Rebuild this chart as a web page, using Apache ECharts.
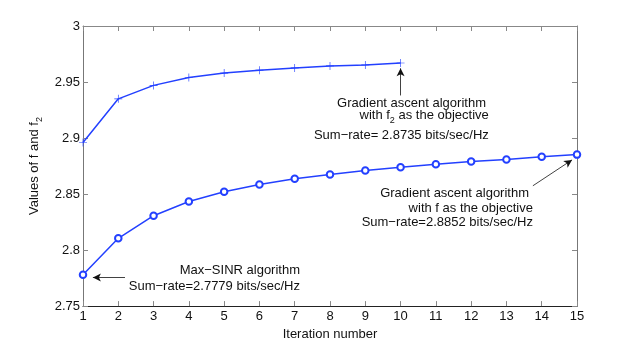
<!DOCTYPE html>
<html>
<head>
<meta charset="utf-8">
<script src="https://cdn.jsdelivr.net/npm/echarts@6/dist/echarts.min.js"></script>
<style>
  html, body { margin: 0; padding: 0; background: #fff; }
  #chart { width: 637px; height: 346px; }
</style>
</head>
<body>
<div id="chart"></div>
<script>
// iteration index
var iterations = [1, 2, 3, 4, 5, 6, 7, 8, 9, 10, 11, 12, 13, 14, 15];
// gradient ascent with f2 as objective (10 iterations)
var f2Values = [2.896, 2.935, 2.947, 2.954, 2.958, 2.9606, 2.9626, 2.9644, 2.9653, 2.967];
// gradient ascent with f as objective
var fValues = [2.7779, 2.8105, 2.8307, 2.8434, 2.852, 2.8585, 2.8636, 2.8674, 2.871, 2.874,
               2.8767, 2.879, 2.8808, 2.8832, 2.8852];
var yTicks = [2.75, 2.8, 2.85, 2.9, 2.95, 3];

var blue = '#2340ff';
var FONT = 'Liberation Sans, Arial, sans-serif';

var chart = echarts.init(document.getElementById('chart'));

function pairs(vals) {
  return vals.map(function (v, i) { return [iterations[i], v]; });
}

var arrowStyle = { color: '#111', width: 0.8, type: 'solid' };
var yMin = yTicks[0], yMax = yTicks[yTicks.length - 1];

var option = {
  animation: false,
  backgroundColor: '#fff',
  grid: { left: 83, right: 60, top: 26, bottom: 39 },
  xAxis: [{
    type: 'value', min: 1, max: 15, interval: 1,
    name: 'Iteration number', nameLocation: 'middle', nameGap: 14,
    nameTextStyle: { color: '#111', fontSize: 13, fontFamily: FONT },
    axisLine: { lineStyle: { color: '#222', width: 1 } },
    axisTick: { inside: true, length: 5, lineStyle: { color: '#888' } },
    axisLabel: { color: '#111', fontSize: 13, fontFamily: FONT, margin: 4 },
    splitLine: { show: false }
  }, {
    type: 'value', min: 1, max: 15, interval: 1, position: 'top',
    axisLine: { show: true, lineStyle: { color: '#888', width: 1 } },
    axisTick: { inside: true, length: 5, lineStyle: { color: '#888' } },
    axisLabel: { show: false },
    splitLine: { show: false }
  }],
  yAxis: [{
    type: 'value', min: yMin, max: yMax, interval: 0.05,
    name: 'Values of f and f{s|2}', nameLocation: 'middle', nameGap: 39, nameRotate: 90,
    nameTextStyle: {
      color: '#111', fontSize: 13, fontFamily: FONT,
      rich: { s: { fontSize: 9, fontFamily: FONT, color: '#111', padding: [10, 0, 0, 0] } }
    },
    axisLine: { show: true, lineStyle: { color: '#777', width: 1 } },
    axisTick: { show: true, inside: true, length: 5, lineStyle: { color: '#888' } },
    axisLabel: {
      color: '#111', fontSize: 13, fontFamily: FONT, margin: 3,
      formatter: function (v) { return String(parseFloat(v.toFixed(2))); }
    },
    splitLine: { show: false }
  }, {
    type: 'value', min: yMin, max: yMax, interval: 0.05, position: 'right',
    axisLine: { show: true, lineStyle: { color: '#777', width: 1 } },
    axisTick: { show: true, inside: true, length: 5, lineStyle: { color: '#888' } },
    axisLabel: { show: false },
    splitLine: { show: false }
  }],
  series: [{
    name: 'f2 objective',
    type: 'line',
    data: pairs(f2Values),
    symbol: 'path://M0,4.6H10V5.4H0Z M4.6,0H5.4V10H4.6Z',
    symbolSize: 8,
    lineStyle: { color: blue, width: 1.5 },
    itemStyle: { color: blue },
    markLine: {
      silent: true, symbol: ['none', 'arrow'], symbolSize: [6, 8],
      label: { show: false }, lineStyle: arrowStyle,
      data: [[{ coord: [10, 2.938] }, { coord: [10, 2.9622] }]]
    }
  }, {
    name: 'f objective',
    type: 'line',
    data: pairs(fValues),
    symbol: 'emptyCircle',
    symbolSize: 6.5,
    lineStyle: { color: blue, width: 1.5 },
    itemStyle: { color: blue, borderWidth: 1.3 },
    markLine: {
      silent: true, symbol: ['none', 'arrow'], symbolSize: [6, 8],
      label: { show: false }, lineStyle: arrowStyle,
      data: [
        [{ coord: [13.75, 2.8574] }, { coord: [14.86, 2.8805] }],
        [{ coord: [2.19, 2.7755] }, { coord: [1.28, 2.7755] }]
      ]
    }
  }]
};
chart.setOption(option);

// annotation text, anchored in data coordinates (right edge, vertical centre)
var notes = [
  { x: 12.42, y: 2.9312, text: 'Gradient ascent algorithm' },
  { x: 12.50, y: 2.9205, text: 'with f{s|2} as the objective' },
  { x: 12.50, y: 2.9019, text: 'Sum\u2212rate= 2.8735 bits/sec/Hz' },
  { x: 13.64, y: 2.8502, text: 'Gradient ascent algorithm' },
  { x: 13.75, y: 2.8368, text: 'with f as the objective' },
  { x: 13.75, y: 2.8244, text: 'Sum\u2212rate=2.8852 bits/sec/Hz' },
  { x: 7.15, y: 2.7817, text: 'Max\u2212SINR algorithm' },
  { x: 7.15, y: 2.7674, text: 'Sum\u2212rate=2.7779 bits/sec/Hz' }
];

var graphics = notes.map(function (n) {
  var p = chart.convertToPixel({ gridIndex: 0 }, [n.x, n.y]);
  return {
    type: 'text', x: p[0], y: p[1], silent: true,
    style: {
      text: n.text, align: 'right', verticalAlign: 'middle',
      fill: '#111', fontSize: 13, fontFamily: FONT,
      rich: { s: { fontSize: 9, fontFamily: FONT, fill: '#111', padding: [10, 0, 0, 0] } }
    }
  };
});
chart.setOption({ graphic: graphics });
</script>
</body>
</html>
